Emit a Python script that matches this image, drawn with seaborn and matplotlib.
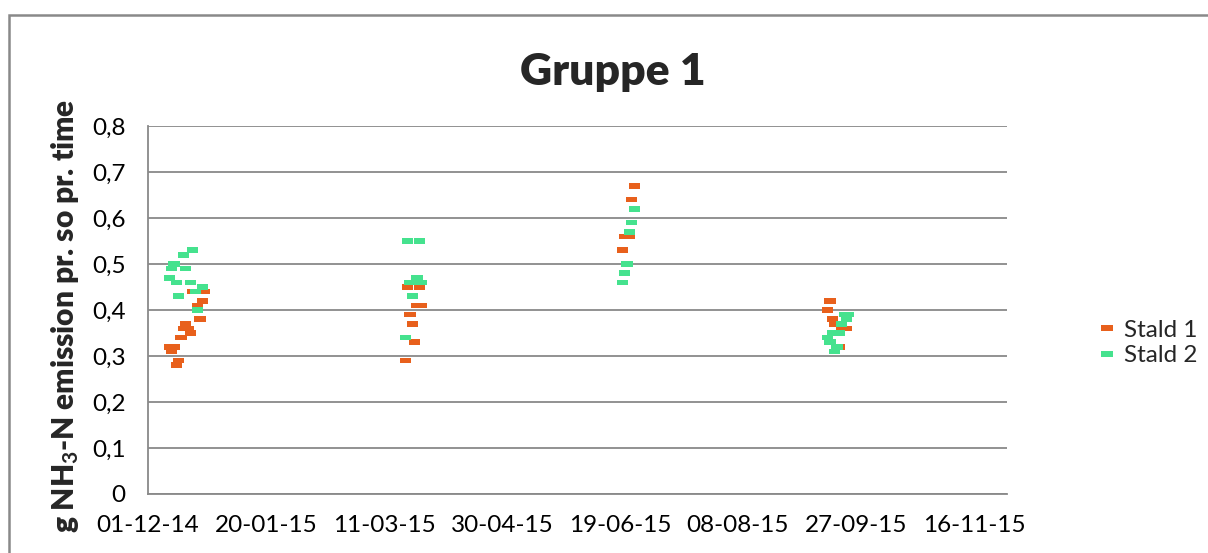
import numpy as np
import pandas as pd
import seaborn as sns
import matplotlib.pyplot as plt
import matplotlib.dates as mdates
from matplotlib.patches import Rectangle
from matplotlib.ticker import FuncFormatter

sns.set_style("white")
plt.rcParams['font.family'] = ['Lato', 'DejaVu Sans']
plt.rcParams['mathtext.fontset'] = 'custom'
plt.rcParams['mathtext.rm'] = 'Lato:bold'
plt.rcParams['mathtext.bf'] = 'Lato:bold'
plt.rcParams['mathtext.it'] = 'Lato:bold:italic'

# Stald 1
dates_1 = ['2014-12-10', '2014-12-11', '2014-12-12', '2014-12-13', '2014-12-14',
           '2014-12-15', '2014-12-16', '2014-12-17', '2014-12-18', '2014-12-19',
           '2014-12-20', '2014-12-22', '2014-12-23', '2014-12-24', '2014-12-25',
           '2015-03-20', '2015-03-21', '2015-03-22', '2015-03-23', '2015-03-24',
           '2015-03-25', '2015-03-26', '2015-03-27',
           '2015-06-20', '2015-06-21', '2015-06-23', '2015-06-24', '2015-06-25',
           '2015-09-15', '2015-09-16', '2015-09-17', '2015-09-18', '2015-09-20',
           '2015-09-21', '2015-09-23']
stald_1 = [0.32, 0.31, 0.32, 0.28, 0.29,
           0.34, 0.36, 0.37, 0.36, 0.35,
           0.44, 0.41, 0.38, 0.42, 0.44,
           0.29, 0.45, 0.39, 0.37, 0.33,
           0.41, 0.45, 0.41,
           0.53, 0.56, 0.56, 0.64, 0.67,
           0.40, 0.42, 0.38, 0.37, 0.32,
           0.36, 0.36]

# Stald 2
dates_2 = ['2014-12-10', '2014-12-11', '2014-12-12', '2014-12-13', '2014-12-14',
           '2014-12-16', '2014-12-17', '2014-12-19', '2014-12-20', '2014-12-21',
           '2014-12-22', '2014-12-24',
           '2015-03-20', '2015-03-21', '2015-03-22', '2015-03-23', '2015-03-25',
           '2015-03-26', '2015-03-27',
           '2015-06-20', '2015-06-21', '2015-06-22', '2015-06-23', '2015-06-24',
           '2015-06-25',
           '2015-09-15', '2015-09-16', '2015-09-17', '2015-09-18', '2015-09-19',
           '2015-09-20', '2015-09-21', '2015-09-22', '2015-09-23', '2015-09-24']
stald_2 = [0.47, 0.49, 0.50, 0.46, 0.43,
           0.52, 0.49, 0.46, 0.53, 0.44,
           0.40, 0.45,
           0.34, 0.55, 0.46, 0.43, 0.47,
           0.55, 0.46,
           0.46, 0.48, 0.50, 0.57, 0.59,
           0.62,
           0.34, 0.33, 0.35, 0.31, 0.32,
           0.35, 0.37, 0.39, 0.38, 0.39]

df = pd.concat([
    pd.DataFrame({'date': pd.to_datetime(dates_1), 'value': stald_1, 'serie': 'Stald 1'}),
    pd.DataFrame({'date': pd.to_datetime(dates_2), 'value': stald_2, 'serie': 'Stald 2'}),
])

W, H = 1208, 553
fig = plt.figure(figsize=(W / 100, H / 100), dpi=100)
ax = fig.add_axes([148 / W, 1 - 494 / H, (1007 - 148) / W, (494 - 126) / H])

dash = [(-1, -0.5), (1, -0.5), (1, 0.5), (-1, 0.5)]
sns.scatterplot(data=df, x='date', y='value', hue='serie', ax=ax,
                palette={'Stald 1': '#E8601C', 'Stald 2': '#45E28E'},
                marker=dash, s=65, linewidth=0, zorder=3)

grey = '#898989'
ax.set_ylim(0, 0.8)
ax.set_yticks(np.arange(0, 0.81, 0.1))
ax.yaxis.set_major_formatter(FuncFormatter(lambda v, p: '0' if abs(v) < 1e-9 else f'{v:.1f}'.replace('.', ',')))
ax.set_xlim(pd.Timestamp('2014-12-01'), pd.Timestamp('2015-11-30'))
ax.set_xticks(pd.date_range('2014-12-01', periods=8, freq='50D'))
ax.xaxis.set_major_formatter(mdates.DateFormatter('%d-%m-%y'))

ax.grid(axis='y', color=grey, linewidth=1.3)
ax.set_axisbelow(True)
for side in ['top', 'right']:
    ax.spines[side].set_visible(False)
for side in ['left', 'bottom']:
    ax.spines[side].set_color(grey)
    ax.spines[side].set_linewidth(1.3)
ax.tick_params(axis='both', direction='out', length=7, width=1.3, color=grey,
               labelsize=17.5, labelcolor='black')
ax.tick_params(axis='y', pad=9)
ax.tick_params(axis='x', pad=8)
ax.set_xlabel('')
ax.set_ylabel('')

fig.text(65 / W, 1 - 316 / H, 'g NH$_3$-N emission pr. so pr. time', rotation=90,
         ha='center', va='center', fontsize=21.5, fontweight='heavy')
fig.text(613 / W, 1 - 72 / H, 'Gruppe 1', ha='center', va='center',
         fontsize=32, fontweight='heavy')

handles, labels = ax.get_legend_handles_labels()
ax.legend(handles, labels, loc='center left', bbox_to_anchor=(1086 / W, 1 - 343 / H),
          bbox_transform=fig.transFigure, frameon=False, fontsize=17.5,
          handlelength=0.7, handletextpad=0.35, labelspacing=0.2, borderpad=0)

fig.patches.append(Rectangle((9 / W, -0.1), 1.1, 1 - 15 / H + 0.1, transform=fig.transFigure,
                             fill=False, edgecolor=grey, linewidth=1.8))

fig.savefig('out.png', dpi=100)
